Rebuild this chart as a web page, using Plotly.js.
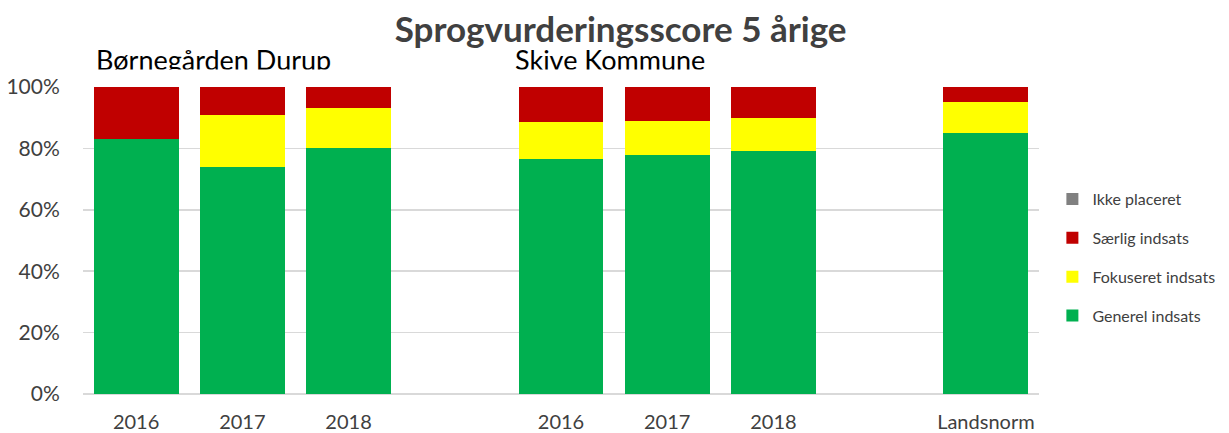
<!DOCTYPE html>
<html>
<head>
<meta charset="utf-8">
<script src="https://cdn.plot.ly/plotly-3.0.1.min.js"></script>
<style>html,body{margin:0;padding:0;background:#fff;}#chart{width:1229px;height:433px;}</style>
</head>
<body>
<div id="chart"></div>
<script>
// Category slots (empty strings are gaps between groups)
const categories = ["2016", "2017", "2018", "", "2016", "2017", "2018", "", "Landsnorm"];
// Series values in percent (null = empty slot)
const generel   = [83, 74, 80, null, 76.5, 78, 79, null, 85];
const fokuseret = [0, 17, 13, null, 12.2, 11, 11, null, 10];
const saerlig   = [17, 9, 7, null, 11.3, 11, 10, null, 5];
const ikke      = [0, 0, 0, null, 0, 0, 0, null, 0];
const seriesNames = ["Generel indsats", "Fokuseret indsats", "Særlig indsats", "Ikke placeret"];
const seriesColors = ["#00b050", "#ffff00", "#c00000", "#808080"];
const yTicks = [0, 20, 40, 60, 80, 100];

const xs = categories.map((c, i) => i);
const data = [generel, fokuseret, saerlig, ikke].map((vals, k) => ({
  type: 'bar',
  x: xs,
  y: vals,
  name: seriesNames[k],
  legendgroup: 'g' + k,
  legendrank: 10 - k,
  marker: {color: seriesColors[k], line: {width: 0}},
  hoverinfo: 'name+y'
}));

const font = "Lato, 'Open Sans', sans-serif";
const layout = {
  width: 1229, height: 433,
  margin: {l: 83, r: 190, t: 87, b: 39, pad: 0, autoexpand: false},
  barmode: 'stack',
  bargap: 0.2,
  paper_bgcolor: '#fff', plot_bgcolor: '#fff',
  font: {family: font, color: '#404040'},
  title: {text: 'Sprogvurderingsscore 5 årige', font: {family: font, size: 35, color: '#404040', weight: 'bold'},
          x: 0.505, xanchor: 'center', y: 0.932, yanchor: 'middle'},
  xaxis: {
    range: [-0.5, categories.length - 0.5],
    tickmode: 'array', tickvals: xs, ticktext: categories,
    ticks: 'outside', ticklen: 10, tickcolor: 'rgba(0,0,0,0)',
    tickfont: {family: font, size: 20, color: '#404040'},
    showgrid: false, zeroline: false, showline: false, fixedrange: true
  },
  yaxis: {
    range: [0, 100],
    tickmode: 'array', tickvals: yTicks, ticktext: yTicks.map(v => v + '%'),
    ticks: 'outside', ticklen: 18, tickcolor: 'rgba(0,0,0,0)',
    tickfont: {family: font, size: 21, color: '#404040'},
    showgrid: true, gridcolor: '#d9d9d9', gridwidth: 1.5,
    zeroline: true, zerolinecolor: '#d9d9d9', zerolinewidth: 1.5,
    showline: false, fixedrange: true
  },
  legend: {
    x: 1.014, xanchor: 'left', y: 0.69, yanchor: 'top',
    traceorder: 'grouped', tracegroupgap: 15,
    font: {family: font, size: 16, color: '#404040'},
    itemwidth: 30, bgcolor: 'rgba(0,0,0,0)'
  },
  annotations: [
    {text: 'Børnegården Durup', xref: 'paper', yref: 'paper', x: (94 - 83) / 956, y: (394 - 60) / 307, xanchor: 'left', yanchor: 'middle',
     showarrow: false, font: {family: font, size: 27, color: '#000'}},
    {text: 'Skive Kommune', xref: 'paper', yref: 'paper', x: (513 - 83) / 956, y: (394 - 60) / 307, xanchor: 'left', yanchor: 'middle',
     showarrow: false, font: {family: font, size: 27, color: '#000'}},
    // white band that trims the bottom of the two group labels, as in the original
    {text: ' ', xref: 'paper', yref: 'paper', x: (88 - 83) / 956, y: (394 - 77.5) / 307, xanchor: 'left', yanchor: 'middle',
     width: 640, height: 16, borderpad: 0, bgcolor: '#fff', showarrow: false, font: {size: 4}}
  ]
};

Plotly.newPlot('chart', data, layout, {displayModeBar: false, staticPlot: true});
</script>
</body>
</html>
